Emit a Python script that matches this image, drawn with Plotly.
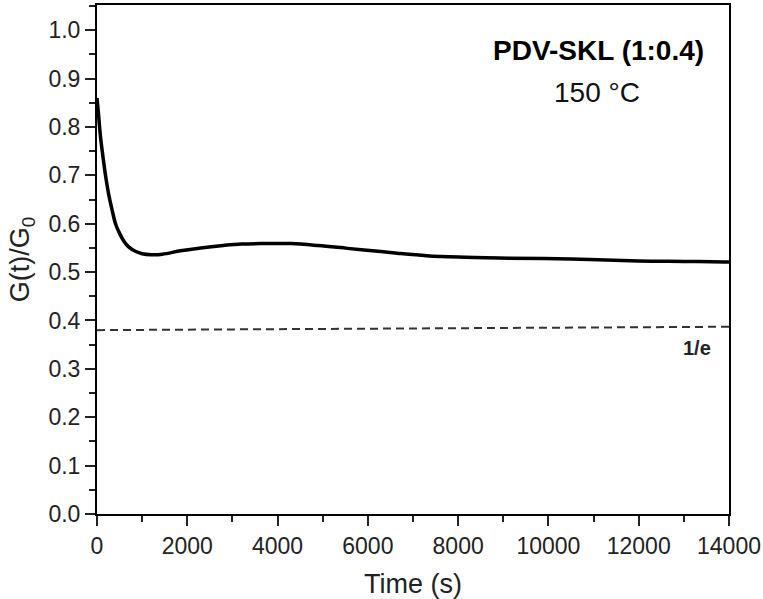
import plotly.graph_objects as go

# Data
time_s = [0, 30, 77, 130, 188, 260, 330, 410, 500, 600, 700, 850, 1000, 1200,
          1450, 1850, 2300, 2800, 3200, 3700, 4300, 4900, 5550, 6100, 6650,
          7300, 8000, 8900, 10500, 12000, 13000, 13900, 14000]
g_ratio = [0.86, 0.83, 0.78, 0.74, 0.70, 0.66, 0.63, 0.60, 0.58, 0.563, 0.552,
           0.543, 0.538, 0.536, 0.537, 0.544, 0.550, 0.555, 0.558, 0.559, 0.559,
           0.555, 0.549, 0.544, 0.539, 0.534, 0.531, 0.529, 0.527, 0.523, 0.522,
           0.521, 0.521]
ref_time = [0, 14000]
ref_level = [0.380, 0.387]

FONT = "Arial, Liberation Sans, sans-serif"

fig = go.Figure()
fig.add_trace(go.Scatter(x=ref_time, y=ref_level, mode="lines",
                         line=dict(color="#333333", width=2, dash="8px,5px"),
                         showlegend=False, hoverinfo="skip"))
fig.add_trace(go.Scatter(x=time_s, y=g_ratio, mode="lines",
                         line=dict(color="black", width=3.5, shape="spline"),
                         showlegend=False))

fig.add_annotation(x=11120, y=0.957, xref="x", yref="y",
                   xanchor="center", yanchor="middle",
                   text="<b>PDV-SKL (1:0.4)</b>", showarrow=False,
                   font=dict(family=FONT, size=28, color="black"))
fig.add_annotation(x=11076, y=0.872, xref="x", yref="y",
                   xanchor="center", yanchor="middle",
                   text="150 °C", showarrow=False,
                   font=dict(family=FONT, size=28, color="#111111"))
fig.add_annotation(x=13290, y=0.343, xref="x", yref="y",
                   xanchor="center", yanchor="middle",
                   text="<b>1/e</b>", showarrow=False,
                   font=dict(family=FONT, size=20, color="#222222"))

axis_common = dict(showline=True, linecolor="black", linewidth=2, mirror=True,
                   ticks="outside", ticklen=10, tickwidth=2, tickcolor="#222222",
                   showgrid=False, zeroline=False, automargin=False,
                   tickfont=dict(family=FONT, size=23, color="#222222"))

fig.update_xaxes(range=[0, 14000], tick0=0, dtick=2000, tickformat="d",
                 minor=dict(ticks="outside", ticklen=6, tickwidth=2,
                            tickcolor="#222222", dtick=1000, tick0=0),
                 title=dict(text="Time (s)", standoff=19,
                            font=dict(family=FONT, size=27, color="#222222")),
                 **axis_common)
fig.update_yaxes(range=[0, 1.052], tick0=0, dtick=0.1, tickformat=".1f",
                 minor=dict(ticks="outside", ticklen=6, tickwidth=2,
                            tickcolor="#222222", dtick=0.05, tick0=0),
                 title=dict(text="G(t)/G<sub>0</sub>", standoff=11,
                            font=dict(family=FONT, size=27, color="#222222")),
                 **axis_common)

fig.update_layout(width=763, height=599,
                  margin=dict(l=97, r=34, t=5, b=85),
                  plot_bgcolor="white", paper_bgcolor="white")

fig.write_html(
    "out.html",
    config={"displayModeBar": False},
    post_script=("document.body.style.margin='0';"
                 "document.body.style.overflow='hidden';"
                 "document.documentElement.style.overflow='hidden';"),
)
